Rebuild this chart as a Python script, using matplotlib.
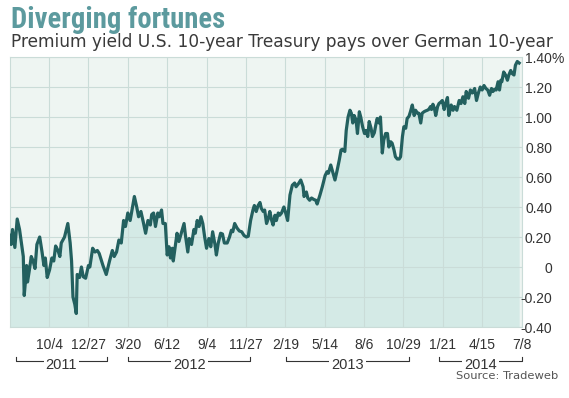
import matplotlib
matplotlib.use("Agg")
import matplotlib.pyplot as plt
import matplotlib.transforms as mtransforms
from matplotlib import font_manager
import pandas as pd

# ---------------- data ----------------
start_date = "2011-07-12"
end_date = "2014-07-08"

# days since start_date of each vertex of the line
day = [0, 3, 6, 11, 16, 21, 26, 29, 31, 34, 36, 38, 42, 46, 50, 54, 58, 64, 69, 73,
       76, 80, 85, 90, 94, 98, 103, 107, 110, 117, 124, 129, 132, 135, 139, 142, 144, 149,
       153, 157, 162, 168, 171, 177, 182, 187, 191, 199, 206, 213, 219, 223, 228, 233, 238,
       243, 247, 252, 257, 262, 266, 271, 275, 280, 285, 290, 295, 300, 303,
       307, 311, 316, 319, 324, 327, 332, 336, 340, 343, 347, 349, 352, 357, 361, 366, 372,
       375, 380, 383, 388, 393, 396, 400, 404, 408, 412, 416, 420, 425, 429, 433, 438, 441,
       445, 450, 454,
       458, 464, 469, 473, 476, 480, 485, 490, 495, 500, 505, 509, 514, 519, 522, 526, 530,
       534, 537, 541, 544, 548, 552, 555, 559, 562, 566, 569, 573, 576, 580, 585, 588, 593,
       598, 603, 608, 611, 616,
       621, 626, 628, 633, 636, 640, 644, 649, 653, 656, 662, 667, 673, 677, 680, 685, 689,
       694, 698, 703, 707, 710, 715, 718, 722, 726, 729, 732, 735, 739, 742, 746, 749, 753,
       757, 760, 764, 767, 771, 774,
       778, 781, 784, 788, 791, 795, 798, 802, 806, 809, 813, 816, 820, 823, 827, 831, 834,
       838, 841, 845, 848, 852, 855, 859, 863, 866, 870, 873, 877, 880, 884, 887, 891, 894,
       898, 900, 903, 906, 909, 913, 916, 920, 923, 927, 930, 934,
       937, 942, 946, 949, 954, 959, 963, 967, 971, 974, 979, 983, 987, 992, 996, 1000, 1004,
       1008, 1012, 1016, 1020, 1024, 1028, 1031, 1035, 1038, 1042, 1045, 1048, 1050, 1054,
       1058, 1062, 1065, 1069, 1072, 1076, 1079, 1083, 1087]

spread = [0.21, 0.15, 0.25, 0.13, 0.32, 0.25, 0.14, 0.07, -0.19, -0.08, 0.01, -0.10, -0.02,
          0.07, 0.04, -0.01, 0.15, 0.20, 0.10, 0.01, 0.06, -0.07, -0.02, 0.06, 0.04, 0.14,
          0.11, 0.07, 0.16, 0.20, 0.29, 0.16, 0.04, -0.20, -0.25, -0.31, -0.05, -0.07,
          0.00, -0.065, -0.075, 0.01, 0.00, 0.125, 0.10, 0.11, 0.09, 0.01, -0.05, 0.04, 0.11,
          0.07, 0.10, 0.18, 0.16, 0.31, 0.27, 0.36, 0.31, 0.40, 0.47, 0.40, 0.335, 0.37, 0.30,
          0.225, 0.31, 0.28, 0.35,
          0.36, 0.27, 0.36, 0.335, 0.38, 0.29, 0.29, 0.08, 0.135, 0.06, 0.125, 0.04, 0.11,
          0.225, 0.17, 0.225, 0.29, 0.21, 0.10, 0.19, 0.15, 0.25, 0.225, 0.31, 0.27, 0.335,
          0.29, 0.20, 0.125, 0.19, 0.135, 0.235, 0.15, 0.08, 0.16, 0.225, 0.22,
          0.16, 0.16, 0.20, 0.245, 0.235, 0.29, 0.26, 0.24, 0.235, 0.21, 0.20, 0.205, 0.31,
          0.38, 0.41, 0.37, 0.41, 0.43, 0.39, 0.37, 0.38, 0.29, 0.325, 0.37, 0.31, 0.28, 0.345,
          0.31, 0.36, 0.345, 0.36, 0.40, 0.37, 0.31, 0.48, 0.545, 0.56, 0.535, 0.555,
          0.58, 0.535, 0.47, 0.50, 0.46, 0.445, 0.46, 0.45, 0.445, 0.42, 0.48, 0.535, 0.61,
          0.635, 0.625, 0.68, 0.635, 0.58, 0.635, 0.71, 0.78, 0.785, 0.77, 0.91, 1.00, 1.045,
          1.025, 0.96, 1.01, 0.98, 0.89, 1.035, 1.00, 0.935, 0.89, 0.91, 0.87, 0.97, 0.925,
          0.87,
          0.895, 0.945, 0.99, 0.96, 1.00, 0.76, 0.845, 0.89, 0.89, 0.80, 0.835, 0.825, 0.78,
          0.735, 0.72, 0.72, 0.735, 0.87, 0.935, 0.925, 0.99, 1.005, 1.035, 1.08, 1.01, 1.045,
          1.025, 1.025, 0.96, 1.025, 1.035, 1.04, 1.045, 1.05, 1.07, 1.05, 1.085, 1.06, 1.01,
          1.07, 1.09, 1.10, 1.11, 1.05, 1.09, 1.13,
          1.01, 1.08, 1.045, 1.07, 1.045, 1.11, 1.09, 1.135, 1.09, 1.17, 1.125, 1.18, 1.16,
          1.19, 1.11, 1.16, 1.20, 1.18, 1.21, 1.19, 1.18, 1.145, 1.19, 1.17, 1.185, 1.18,
          1.235, 1.18, 1.245, 1.235, 1.30, 1.28, 1.245, 1.28, 1.31, 1.29, 1.28, 1.345, 1.37,
          1.36]

tick_dates = ["2011-10-04", "2011-12-27", "2012-03-20", "2012-06-12", "2012-09-04",
              "2012-11-27", "2013-02-19", "2013-05-14", "2013-08-06", "2013-10-29",
              "2014-01-21", "2014-04-15", "2014-07-08"]
tick_labels = ["10/4", "12/27", "3/20", "6/12", "9/4", "11/27", "2/19", "5/14", "8/6",
               "10/29", "1/21", "4/15", "7/8"]

y_ticks = [-0.40, -0.20, 0.0, 0.20, 0.40, 0.60, 0.80, 1.00, 1.20, 1.40]
y_labels = ["-0.40", "-0.20", "0", "0.20", "0.40", "0.60", "0.80", "1.00", "1.20", "1.40"]

years = ["2011", "2012", "2013", "2014"]
year_start = ["2011-07-25", "2012-03-21", "2013-02-21", "2014-01-14"]
year_end = ["2012-02-05", "2012-12-06", "2013-11-11", "2014-07-08"]

title = "Diverging fortunes"
subtitle = "Premium yield U.S. 10-year Treasury pays over German 10-year"
source = "Source: Tradeweb"

# ---------------- styling ----------------
W, H = 569, 398
LINE = "#23605f"
FILL = "#d4eae6"
BG = "#eef5f2"
GRID = "#cadcd8"
TITLE_C = "#5c9a9e"
TXT = "#333333"

avail = {f.name for f in font_manager.fontManager.ttflist}


def pick(*cands):
    for c in cands:
        if c in avail:
            return c
    return "DejaVu Sans"


title_font = pick("Liberation Sans Narrow", "Roboto Condensed", "Open Sans Condensed",
                  "DejaVu Sans Condensed", "Liberation Sans")
label_font = pick("Liberation Sans", "Arial")
sub_font = pick("DejaVu Sans")

fig = plt.figure(figsize=(W / 100, H / 100), dpi=100)
fig.patch.set_facecolor("white")

x0, x1 = 9.7, 521.5
ytop, ybot = 57, 327
ax = fig.add_axes([x0 / W, 1 - ybot / H, (x1 - x0) / W, (ybot - ytop) / H])
ax.set_facecolor(BG)

dates = pd.Timestamp(start_date) + pd.to_timedelta(day, unit="D")
ymin, ymax = y_ticks[0], y_ticks[-1]

ax.fill_between(dates, spread, ymin, color=FILL, lw=0, zorder=1)
ax.plot(dates, spread, color=LINE, lw=2.3, solid_joinstyle="round", zorder=3)

ax.set_xlim(pd.Timestamp(start_date), pd.Timestamp(end_date))
ax.set_ylim(ymin, ymax)

ax.set_xticks(pd.to_datetime(tick_dates))
ax.set_xticklabels(tick_labels, fontsize=10, color=TXT, family=label_font)
ax.tick_params(axis="x", length=0, pad=8)
ax.set_yticks(y_ticks)
ax.tick_params(axis="y", length=0, labelleft=False, labelright=False)
ax.grid(True, color=GRID, lw=0.8, zorder=2)
ax.set_axisbelow(False)
for gl in ax.get_xgridlines() + ax.get_ygridlines():
    gl.set_zorder(2)
for s in ax.spines.values():
    s.set_color(GRID)
    s.set_linewidth(0.8)

# right-side value labels (slightly below their gridlines, as in the reference)
trans_y = mtransforms.blended_transform_factory(fig.transFigure, ax.transData)
shift = mtransforms.ScaledTranslation(0, -2 / 100, fig.dpi_scale_trans)
for v, lab in zip(y_ticks, y_labels):
    ax.text(552 / W, v, lab, transform=trans_y + shift, ha="right", va="center",
            fontsize=10, color=TXT, family=label_font, clip_on=False)
    if v == ymax:
        ax.text(552 / W, v, "%", transform=trans_y + shift, ha="left", va="center",
                fontsize=10, color=TXT, family=label_font, clip_on=False)

# year brackets
trans_x = mtransforms.blended_transform_factory(ax.transData, fig.transFigure)
yl = 1 - 361 / H
yt = 1 - 357 / H
for name, s, e in zip(years, year_start, year_end):
    xs, xe = pd.Timestamp(s), pd.Timestamp(e)
    ax.plot([xs, xs, xe, xe], [yt, yl, yl, yt], transform=trans_x, color=TXT, lw=0.8,
            clip_on=False, zorder=5)
    xm = xs + (xe - xs) / 2
    ax.text(xm, 1 - 365 / H, name, transform=trans_x, ha="center", va="center",
            fontsize=10.5, color=TXT, family=label_font, clip_on=False, zorder=6,
            bbox=dict(facecolor="white", edgecolor="none", pad=1.5))

# titles
renderer = fig.canvas.get_renderer()


def fit(txt, target_w):
    w = txt.get_window_extent(renderer=renderer).width
    txt.set_fontsize(txt.get_fontsize() * target_w / w)


t1 = fig.text(11 / W, 1 - 28 / H, title, fontsize=19, fontweight="bold",
              color=TITLE_C, family=title_font, ha="left", va="baseline")
if title_font != "Liberation Sans":
    fit(t1, 213)
t2 = fig.text(11 / W, 1 - 47 / H, subtitle, fontsize=11, color="#3a3a3a",
              family=sub_font, ha="left", va="baseline")
fit(t2, 543)
t3 = fig.text(558 / W, 1 - 379 / H, source, fontsize=8.5, color="#555555",
              family=sub_font, ha="right", va="baseline")
fit(t3, 102)

fig.savefig("out.png", dpi=100, facecolor="white")
